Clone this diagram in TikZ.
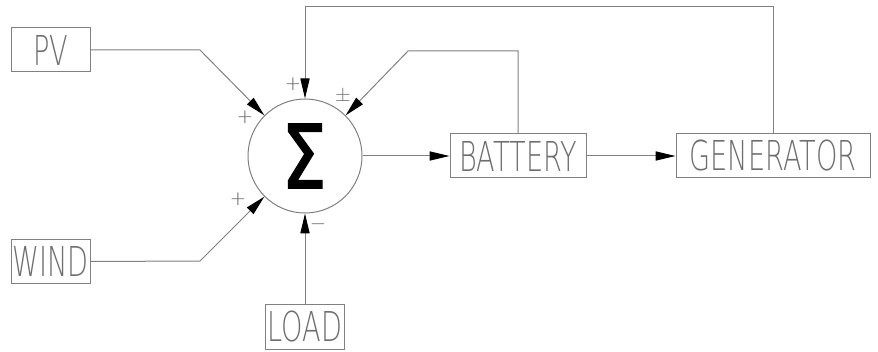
\documentclass[tikz,border=0pt]{standalone}
\usepackage{fontspec}
\usetikzlibrary{arrows.meta}
\newfontfamily\boxfont{DejaVu Sans ExtraLight}[FakeStretch=0.66]
\newfontfamily\signfont{DejaVu Sans ExtraLight}
\newfontfamily\sumfont{DejaVu Sans}[FakeStretch=0.8, FakeBold=2]
\definecolor{linegray}{RGB}{128,128,128}
\definecolor{textgray}{RGB}{110,110,110}
\begin{document}
\begin{tikzpicture}[
		x=0.5pt, y=-0.5pt,
		box/.style={
			draw=linegray,
			line width=0.5pt,
			inner sep=0pt,
			minimum width=39.5pt,
			minimum height=22pt,
			text=textgray,
			font=\boxfont\fontsize{20.6}{22}\selectfont
		},
		line/.style={draw=linegray, line width=0.5pt},
		arrow/.style={line, -{Triangle[length=10pt, width=4.6pt, black]}},
		sign/.style={text=textgray, inner sep=0pt, font=\signfont\fontsize{10}{10}\selectfont}
		]
		\useasboundingbox (0,0) rectangle (878,352);
		
		% Summing junction
		\node[draw=linegray, line width=0.5pt, circle, minimum size=57pt, inner sep=0pt] (sum) at (305,156) {};
		\node[inner sep=0pt, font=\sumfont\fontsize{44}{44}\selectfont] (sigma) at (304,156) {Σ};
		
		% Sources and load
		\node[box] (pv) at (50.5,50) {PV};
		\node[box] (wind) at (50.5,261.5) {WIND};
		\node[box] (load) at (305,327) {LOAD};
		
		% Storage and backup
		\node[box, minimum width=68pt] (bat) at (518,156) {BATTERY};
		\node[box, minimum width=97pt] (gen) at (773,156) {GENERATOR};
		
		% Bend points
		\coordinate (pvbend) at (200,50);
		\coordinate (windbend) at (200,261);
		\coordinate (batbend) at (408,51);
		\coordinate (gentop) at (773,7);
		
		% Inputs to the junction
		\draw[arrow] (pv.east) -- (pvbend) -- (sum.135);
		\draw[arrow] (wind.east) -- (windbend) -- (sum.225);
		\draw[arrow] (load.north) -- (sum.south);
		
		% Forward path
		\draw[arrow] (sum.east) -- (bat.west);
		\draw[arrow] (bat.east) -- (gen.west);
		
		% Feedback paths
		\draw[arrow] (bat.north) |- (batbend) -- (sum.45);
		\draw[arrow] (gen.north) -- (gentop) -| (sum.north);
		
		% Signs
		\node[sign] at (245,117) {+};
		\node[sign] at (293,84) {+};
		\node[sign] at (343,97) {$\pm$};
		\node[sign] at (238,199) {+};
		\node[sign] at (318,227) {\textminus};
		
	\end{tikzpicture}
\end{document}
